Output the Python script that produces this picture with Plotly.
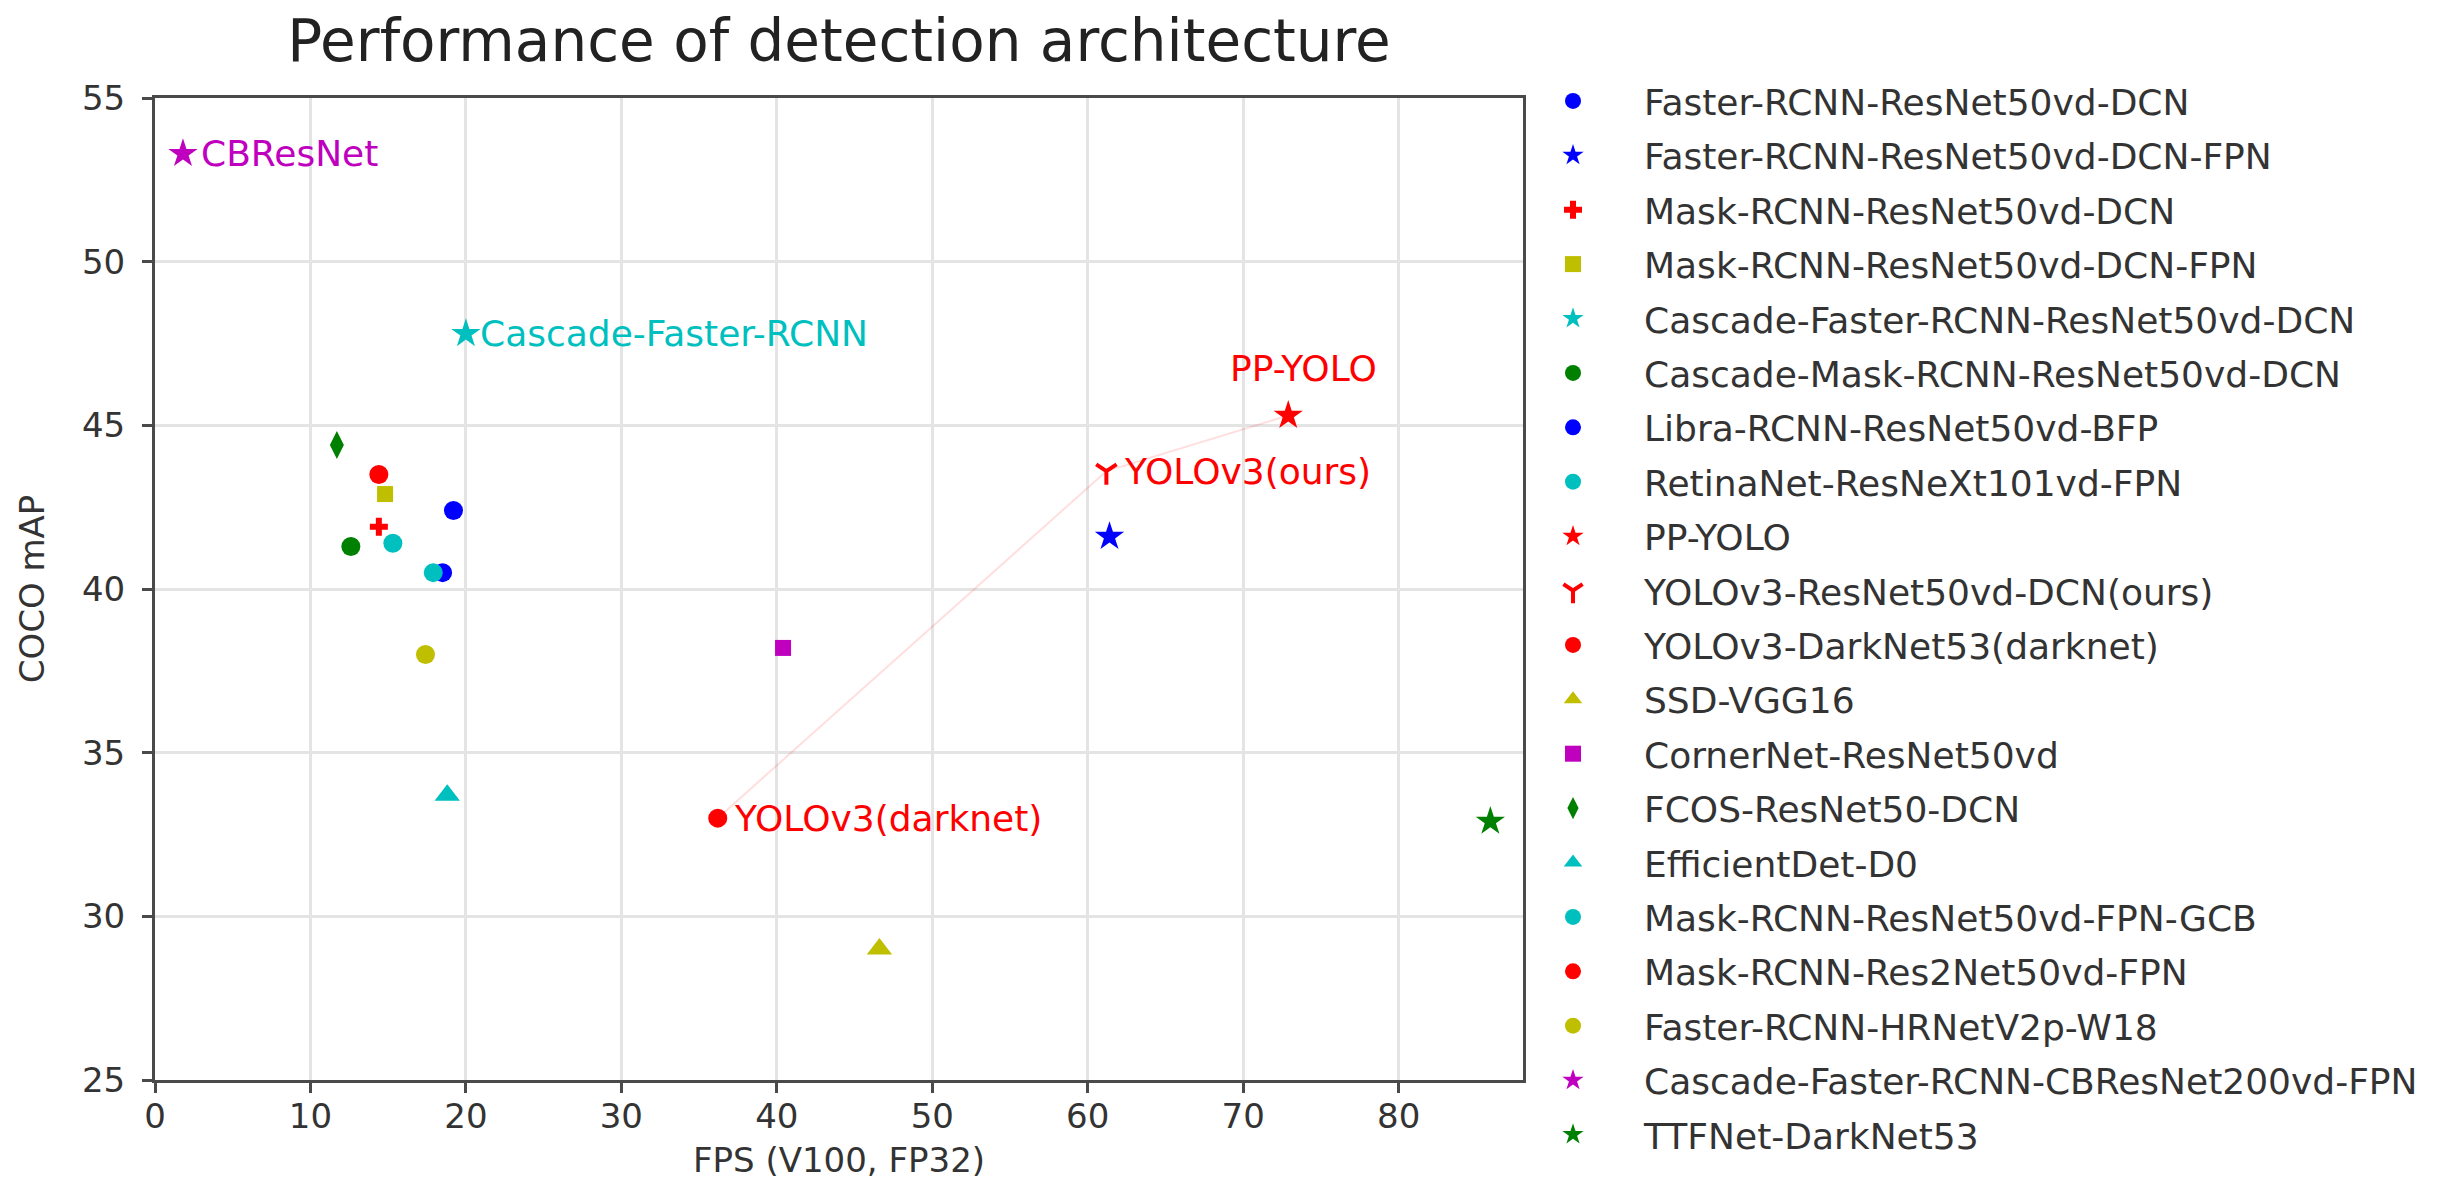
import plotly.graph_objects as go

# ---------------- data ----------------
names = [
    "Faster-RCNN-ResNet50vd-DCN",
    "Faster-RCNN-ResNet50vd-DCN-FPN",
    "Mask-RCNN-ResNet50vd-DCN",
    "Mask-RCNN-ResNet50vd-DCN-FPN",
    "Cascade-Faster-RCNN-ResNet50vd-DCN",
    "Cascade-Mask-RCNN-ResNet50vd-DCN",
    "Libra-RCNN-ResNet50vd-BFP",
    "RetinaNet-ResNeXt101vd-FPN",
    "PP-YOLO",
    "YOLOv3-ResNet50vd-DCN(ours)",
    "YOLOv3-DarkNet53(darknet)",
    "SSD-VGG16",
    "CornerNet-ResNet50vd",
    "FCOS-ResNet50-DCN",
    "EfficientDet-D0",
    "Mask-RCNN-ResNet50vd-FPN-GCB",
    "Mask-RCNN-Res2Net50vd-FPN",
    "Faster-RCNN-HRNetV2p-W18",
    "Cascade-Faster-RCNN-CBResNet200vd-FPN",
    "TTFNet-DarkNet53",
]
fps = [19.2, 61.4, 14.4, 14.8, 20.0, 12.6, 18.5, 15.3, 72.9, 61.2,
       36.2, 46.6, 40.4, 11.7, 18.8, 17.9, 14.4, 17.4, 1.8, 85.9]
coco_map = [42.4, 41.6, 41.9, 42.9, 47.8, 41.3, 40.5, 41.4, 45.3, 43.6,
            33.0, 29.0, 38.2, 44.4, 33.7, 40.5, 43.5, 38.0, 53.3, 32.9]

# trend line through the YOLO family (darknet -> ours -> PP-YOLO)
trend_names = ["YOLOv3-DarkNet53(darknet)", "YOLOv3-ResNet50vd-DCN(ours)", "PP-YOLO"]

# in-plot labels
label_for = ["Cascade-Faster-RCNN-CBResNet200vd-FPN", "Cascade-Faster-RCNN-ResNet50vd-DCN",
             "PP-YOLO", "YOLOv3-ResNet50vd-DCN(ours)", "YOLOv3-DarkNet53(darknet)"]
label_text = ["CBResNet", "Cascade-Faster-RCNN", "PP-YOLO", "YOLOv3(ours)", "YOLOv3(darknet)"]

x_ticks = [0, 10, 20, 30, 40, 50, 60, 70, 80]
y_ticks = [25, 30, 35, 40, 45, 50, 55]

# ---------------- styles ----------------
B, R, Y, C, G, M = "#0000FF", "#FF0000", "#BFBF00", "#00BFBF", "#008000", "#BF00BF"
colors = [B, B, R, Y, C, G, B, C, R, R, R, Y, M, G, C, C, R, Y, M, G]
symbols = ["circle", "star", "cross", "square", "star", "circle", "circle", "circle",
           "star", "y-down", "circle", "triangle-up", "square", "diamond-tall",
           "triangle-up", "circle", "circle", "circle", "star", "star"]
sizes = [19, 22, 15, 16, 22, 19, 19, 19, 22, 17, 19, 22, 16, 20, 22, 19, 19, 19, 22, 22]
label_style = {
    "CBResNet": dict(color=M, xanchor="left", xshift=16, yshift=0),
    "Cascade-Faster-RCNN": dict(color=C, xanchor="left", xshift=12, yshift=0),
    "PP-YOLO": dict(color=R, xanchor="center", xshift=15, yshift=47),
    "YOLOv3(ours)": dict(color=R, xanchor="left", xshift=16, yshift=0),
    "YOLOv3(darknet)": dict(color=R, xanchor="left", xshift=14, yshift=0),
}

FONT = "DejaVu Sans"
TXT = "#333333"

fig = go.Figure()

# faint trend line
tx = [fps[names.index(n)] for n in trend_names]
ty = [coco_map[names.index(n)] for n in trend_names]
fig.add_trace(go.Scatter(x=tx, y=ty, mode="lines", showlegend=False, hoverinfo="skip",
                         line=dict(color="rgba(255,0,0,0.13)", width=2)))

for i, n in enumerate(names):
    sym = symbols[i]
    if sym == "y-down":
        marker = dict(symbol=sym, size=sizes[i], color=colors[i],
                      line=dict(color=colors[i], width=4))
    else:
        marker = dict(symbol=sym, size=sizes[i], color=colors[i], line=dict(width=0))
    fig.add_trace(go.Scatter(x=[fps[i]], y=[coco_map[i]], mode="markers", name=n,
                             legendgroup=n, marker=marker))

for n, t in zip(label_for, label_text):
    i = names.index(n)
    st = label_style[t]
    fig.add_annotation(x=fps[i], y=coco_map[i], text=t, showarrow=False,
                       xanchor=st["xanchor"], yanchor="middle",
                       xshift=st["xshift"], yshift=st["yshift"],
                       font=dict(family=FONT, size=36, color=st["color"]))

axis_common = dict(showgrid=True, gridcolor="#e4e4e4", gridwidth=3,
                   showline=True, linecolor="#4a4a4a", linewidth=3, mirror=True,
                   ticks="outside", ticklen=10, tickwidth=3, tickcolor="#4a4a4a",
                   zeroline=False,
                   tickfont=dict(family=FONT, size=34, color=TXT))

fig.update_xaxes(range=[0, 88], tickvals=x_ticks, ticklabelstandoff=-6,
                 title=dict(text="FPS (V100, FP32)", standoff=14,
                            font=dict(family=FONT, size=34, color=TXT)),
                 **axis_common)
fig.update_yaxes(range=[25, 55], tickvals=y_ticks, ticklabelstandoff=10,
                 title=dict(text="COCO mAP", standoff=28,
                            font=dict(family=FONT, size=34, color=TXT)),
                 **axis_common)

fig.update_layout(
    width=2437, height=1182,
    margin=dict(l=147, r=922, t=90, b=110, autoexpand=False),
    plot_bgcolor="white", paper_bgcolor="white",
    title=dict(text="Performance of detection architecture", x=(147 + 1515) / 2 / 2437,
               xanchor="center", xref="container", y=1 - 33 / 1182, yanchor="middle",
               yref="container",
               font=dict(family=FONT, size=58, color="#222222")),
    legend=dict(xref="container", yref="container", x=1494 / 2437, y=1 - 63 / 1182,
                xanchor="left", yanchor="top", bgcolor="rgba(0,0,0,0)",
                font=dict(family=FONT, size=36, color=TXT),
                itemwidth=132, tracegroupgap=4.6, itemsizing="trace",
                maxheight=1150),
    showlegend=True,
)

fig.write_html("out.html")
